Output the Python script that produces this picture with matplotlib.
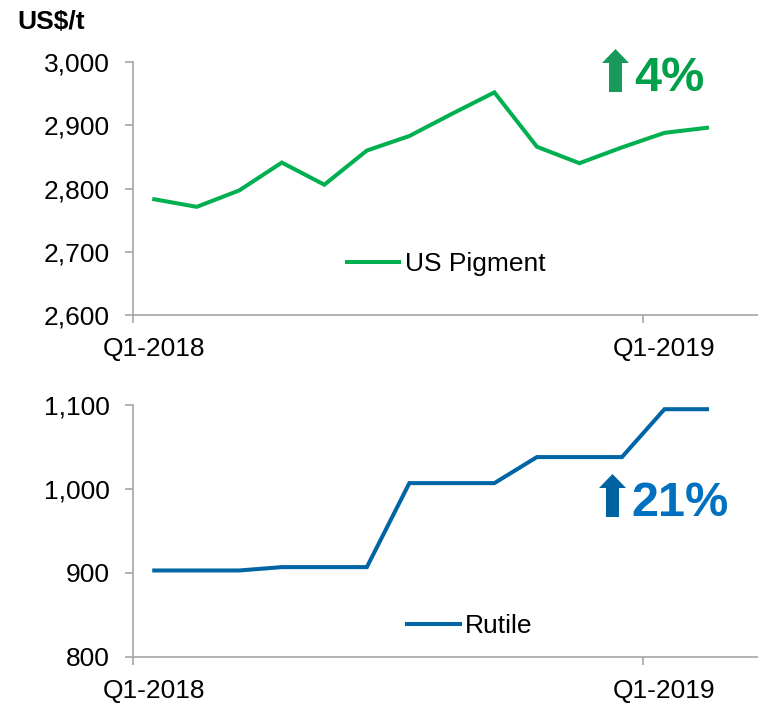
import matplotlib
matplotlib.use("Agg")
import matplotlib.pyplot as plt
from matplotlib.patches import Polygon

# ── データ（月次, 2018年1月〜2019年2月）─────────────────────────
months = list(range(14))
pigment = [2783, 2771, 2797, 2841, 2806, 2860, 2883, 2918, 2952,
           2866, 2840, 2865, 2888, 2896]
rutile = [903, 903, 903, 907, 907, 907, 1007, 1007, 1007,
          1038, 1038, 1038, 1095, 1095]
tick_labels = ["Q1-2018", "Q1-2019"]
label_pos = [0, 12]
tick_between = [-0.5, 11.5]

GREEN_LINE = "#00B050"
GREEN_TXT = "#00A04A"
GREEN_ARROW = "#1A9A5A"
BLUE_LINE = "#0065A4"
BLUE_TXT = "#0070C0"
BLUE_ARROW = "#0062A0"
AXIS_GRAY = "#A6A6A6"

plt.rcParams["font.family"] = ["Liberation Sans", "DejaVu Sans"]
FS = 19

W, H = 758, 703
fig = plt.figure(figsize=(W / 100, H / 100), dpi=100)


def fx(px):
    return px / W


def fy(py):
    return 1 - py / H


def style_axes(ax, ylim, yticks, ylabels):
    ax.set_xlim(-0.5, 14.2)
    ax.set_ylim(*ylim)
    for s in ("top", "right"):
        ax.spines[s].set_visible(False)
    for s in ("left", "bottom"):
        ax.spines[s].set_color(AXIS_GRAY)
        ax.spines[s].set_linewidth(1.2)
    ax.set_yticks(yticks, ylabels)
    ax.tick_params(axis="y", length=6, width=1.2, color=AXIS_GRAY,
                   pad=11, labelsize=FS)
    ax.set_xticks(tick_between, ["", ""])
    ax.set_xticks(label_pos, tick_labels, minor=True)
    ax.tick_params(axis="x", which="major", length=6, width=1.2,
                   color=AXIS_GRAY)
    ax.tick_params(axis="x", which="minor", length=0, pad=16,
                   labelsize=FS)


def arrow(x0, x1, ytop, yhead, ybot, shaft, color):
    cx = (x0 + x1) / 2
    pts = [(cx, ytop), (x1, yhead), (cx + shaft / 2, yhead),
           (cx + shaft / 2, ybot), (cx - shaft / 2, ybot),
           (cx - shaft / 2, yhead), (x0, yhead)]
    fig.patches.append(Polygon([(fx(a), fy(b)) for a, b in pts],
                               closed=True, transform=fig.transFigure,
                               facecolor=color, edgecolor="none"))


# ── 上段: US Pigment ───────────────────────────────────────────
ax1 = fig.add_axes([fx(133), fy(315), fx(W - 133), (315 - 62) / H])
ax1.plot(months, pigment, color=GREEN_LINE, lw=2.9,
         solid_joinstyle="miter", label="US Pigment")
style_axes(ax1, (2600, 3000), [2600, 2700, 2800, 2900, 3000],
           ["2,600", "2,700", "2,800", "2,900", "3,000"])
ax1.legend(loc="center", bbox_to_anchor=(fx(446), fy(264)),
           bbox_transform=fig.transFigure, frameon=False, fontsize=FS,
           handlelength=2.0, handletextpad=0.2, borderpad=0)

# ── 下段: Rutile ───────────────────────────────────────────────
ax2 = fig.add_axes([fx(133), fy(657), fx(W - 133), (657 - 405) / H])
ax2.plot(months, rutile, color=BLUE_LINE, lw=2.9,
         solid_joinstyle="miter", label="Rutile")
style_axes(ax2, (800, 1100), [800, 900, 1000, 1100],
           ["800", "900", "1,000", "1,100"])
ax2.legend(loc="center", bbox_to_anchor=(fx(470), fy(626)),
           bbox_transform=fig.transFigure, frameon=False, fontsize=FS,
           handlelength=2.0, handletextpad=0.2, borderpad=0)

# ── 注記 ───────────────────────────────────────────────────────
fig.text(fx(17), fy(22), "US$/t", fontsize=FS, fontweight="bold",
         ha="left", va="center")

arrow(602, 629, 49, 63, 92, 13, GREEN_ARROW)
fig.text(fx(634), fy(91), "4%", fontsize=35, fontweight="bold",
         color=GREEN_TXT, ha="left", va="baseline")

arrow(599, 626, 474, 488, 517, 13, BLUE_ARROW)
fig.text(fx(631), fy(516), "21%", fontsize=35, fontweight="bold",
         color=BLUE_TXT, ha="left", va="baseline")

fig.savefig("out.png", dpi=100)
